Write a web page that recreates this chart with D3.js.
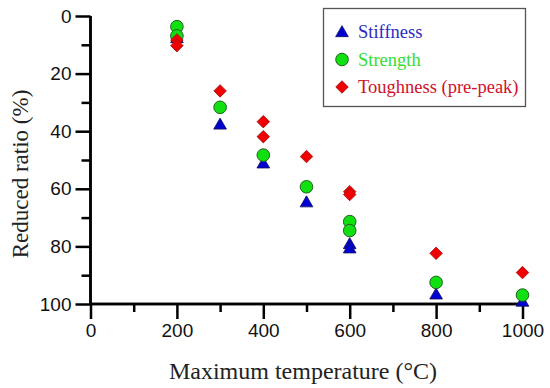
<!DOCTYPE html>
<html>
<head>
<meta charset="utf-8">
<script src="https://d3js.org/d3.v7.min.js"></script>
<style>
  body { margin: 0; background: #fff; }
  .tick text { font-family: "Liberation Sans", Arial, sans-serif; font-size: 19px; fill: #111; }
</style>
</head>
<body>
<script>
var stiffTemp = [200, 300, 400, 500, 600, 600, 800, 1000];
var stiffVal = [8, 38, 51.5, 65, 79.5, 81, 97, 99.5];
var strTemp = [200, 200, 300, 400, 500, 600, 600, 800, 1000];
var strVal = [3.7, 6.9, 31.7, 48.3, 59.3, 71.4, 74.5, 92.5, 96.9];
var toughTemp = [200, 200, 300, 400, 400, 500, 600, 600, 800, 1000];
var toughVal = [8.3, 10.3, 26, 36.7, 41.9, 48.8, 61, 62, 82.4, 89.1];
var xTicks = [0, 200, 400, 600, 800, 1000];
var yTicks = [0, 20, 40, 60, 80, 100];
var legendNames = ["Stiffness", "Strength", "Toughness (pre-peak)"];

var W = 550, H = 388;
var svg = d3.select("body").append("svg").attr("width", W).attr("height", H);

var x = d3.scaleLinear().domain([0, 1000]).range([90.5, 522.5]);
var y = d3.scaleLinear().domain([0, 100]).range([16, 304]);

// minor ticks
var gx = svg.append("g").attr("transform", "translate(0," + y(100) + ")");
gx.call(d3.axisBottom(x).tickValues(d3.range(100, 1000, 200)).tickSize(8).tickFormat(""));
gx.append("g").call(d3.axisBottom(x).tickValues(xTicks).tickSize(15).tickPadding(5).tickFormat(d3.format("d")));
var gy = svg.append("g").attr("transform", "translate(" + x(0) + ",0)");
gy.call(d3.axisLeft(y).tickValues(d3.range(10, 100, 20)).tickSize(9).tickFormat(""));
gy.append("g").call(d3.axisLeft(y).tickValues(yTicks).tickSize(15).tickPadding(4));
svg.selectAll(".domain").attr("stroke", "#000").attr("stroke-width", 2.5);
svg.selectAll(".tick line").attr("stroke", "#000").attr("stroke-width", 2.5);
gx.selectAll(".domain").attr("d", "M" + x(0) + ",0H" + x(1000));
gy.selectAll(".domain").attr("d", "M0," + y(0) + "V" + y(100));

// axis titles
svg.append("text").attr("x", 303).attr("y", 379).attr("text-anchor", "middle")
  .style("font-family", "'Liberation Serif', 'Times New Roman', serif").style("font-size", "24px").attr("fill", "#222")
  .text("Maximum temperature (\u00B0C)");
svg.append("text").attr("transform", "translate(28,174) rotate(-90)").attr("text-anchor", "middle")
  .style("font-family", "'Liberation Serif', 'Times New Roman', serif").style("font-size", "23px").attr("fill", "#222")
  .text("Reduced ratio (%)");

var tri = d3.symbol().type(d3.symbolTriangle).size(70);
var dia = d3.symbol().type(d3.symbolSquare).size(78);

var plot = svg.append("g");
plot.selectAll(".tri").data(stiffTemp).enter().append("path")
  .attr("d", tri).attr("transform", function(d, i) { return "translate(" + x(d) + "," + y(stiffVal[i]) + ")"; })
  .attr("fill", "#0000d0").attr("stroke", "#101060").attr("stroke-width", 0.8);
plot.selectAll(".circ").data(strTemp).enter().append("circle")
  .attr("cx", function(d) { return x(d); }).attr("cy", function(d, i) { return y(strVal[i]); })
  .attr("r", 6.3).attr("fill", "#10e010").attr("stroke", "#206020").attr("stroke-width", 1);
plot.selectAll(".dia").data(toughTemp).enter().append("path")
  .attr("d", dia).attr("transform", function(d, i) { return "translate(" + x(d) + "," + y(toughVal[i]) + ") rotate(45)"; })
  .attr("fill", "#f00000").attr("stroke", "#a01010").attr("stroke-width", 0.8);

// legend
var lg = svg.append("g");
lg.append("rect").attr("x", 323.5).attr("y", 8.5).attr("width", 202).attr("height", 98)
  .attr("fill", "#fff").attr("stroke", "#555").attr("stroke-width", 1.3);
var legendColors = ["#2a2ac0", "#33dd33", "#d0102a"];
legendNames.forEach(function(n, i) {
  var cy = 32 + i * 27.5;
  if (i === 0) lg.append("path").attr("d", tri).attr("transform", "translate(342," + (cy + 1) + ")")
    .attr("fill", "#0000d0").attr("stroke", "#101060").attr("stroke-width", 0.8);
  if (i === 1) lg.append("circle").attr("cx", 342).attr("cy", cy).attr("r", 6.3)
    .attr("fill", "#10e010").attr("stroke", "#206020");
  if (i === 2) lg.append("path").attr("d", dia).attr("transform", "translate(342," + cy + ") rotate(45)")
    .attr("fill", "#f00000").attr("stroke", "#a01010").attr("stroke-width", 0.8);
  lg.append("text").attr("x", 358).attr("y", cy + 6).attr("fill", legendColors[i])
    .style("font-family", "'Liberation Serif', 'Times New Roman', serif").style("font-size", "18.5px")
    .text(n);
});
</script>
</body>
</html>
